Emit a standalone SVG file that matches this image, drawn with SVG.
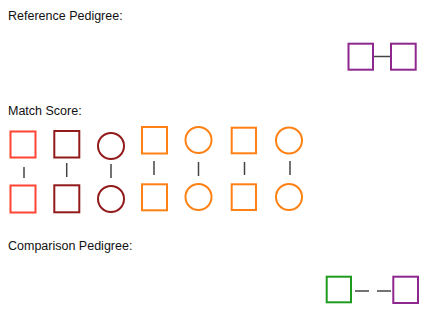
<svg xmlns="http://www.w3.org/2000/svg" width="423" height="317" viewBox="0 0 423 317">
<style>
text{font-family:"Liberation Sans",Arial,sans-serif;font-size:12.5px;fill:#111}
.n{fill:none;stroke-width:2}
.red{stroke:#FF4433}
.dred{stroke:#921A1A}
.org{stroke:#FF8114}
.pur{stroke:#8E278E}
.grn{stroke:#1E9A1E}
.c{stroke:#444;stroke-width:1.5;fill:none}
</style>
<rect width="423" height="317" fill="#fff"/>
<text x="8" y="20">Reference Pedigree:</text>
<text x="8" y="115">Match Score:</text>
<text x="8" y="250">Comparison Pedigree:</text>
<g id="ref-1"><rect class="n pur" x="348.5" y="43.7" width="24.5" height="26"/></g>
<g id="ref-2"><rect class="n pur" x="391" y="43.7" width="24.7" height="26"/></g>
<g id="m1-top"><rect class="n red" x="10.5" y="131.5" width="25" height="26"/></g>
<g id="m1-bot"><rect class="n red" x="10.5" y="185.5" width="25" height="27"/></g>
<g id="m2-top"><rect class="n dred" x="54.3" y="131" width="25" height="26.5"/></g>
<g id="m2-bot"><rect class="n dred" x="54.3" y="185.3" width="25" height="27"/></g>
<g id="m3-top"><circle class="n dred" cx="111" cy="146" r="13"/></g>
<g id="m3-bot"><circle class="n dred" cx="111" cy="199" r="13"/></g>
<g id="m4-top"><rect class="n org" x="142" y="127" width="25" height="26.5"/></g>
<g id="m4-bot"><rect class="n org" x="142" y="184.3" width="25" height="26"/></g>
<g id="m5-top"><circle class="n org" cx="198.5" cy="140" r="13"/></g>
<g id="m5-bot"><circle class="n org" cx="198.5" cy="197" r="13"/></g>
<g id="m6-top"><rect class="n org" x="231.7" y="127.7" width="24.3" height="25.6"/></g>
<g id="m6-bot"><rect class="n org" x="231.7" y="184.3" width="24.3" height="25.7"/></g>
<g id="m7-top"><circle class="n org" cx="289" cy="140.5" r="13"/></g>
<g id="m7-bot"><circle class="n org" cx="289" cy="197" r="13"/></g>
<g id="cmp-1"><rect class="n grn" x="326.7" y="276.7" width="24.3" height="25.6"/></g>
<g id="cmp-2"><rect class="n pur" x="393.3" y="276.7" width="24.7" height="26.3"/></g>
<g id="connectors">
<line class="c" x1="374" y1="56.5" x2="390" y2="56.5"/>
<line class="c" x1="24" y1="167" x2="24" y2="178"/>
<line class="c" x1="66.7" y1="163" x2="66.7" y2="177"/>
<line class="c" x1="111" y1="164" x2="111" y2="178"/>
<line class="c" x1="154" y1="161" x2="154" y2="175"/>
<line class="c" x1="198.5" y1="162" x2="198.5" y2="176"/>
<line class="c" x1="244.5" y1="162" x2="244.5" y2="175"/>
<line class="c" x1="290" y1="161" x2="290" y2="175"/>
<line class="c" x1="355" y1="291" x2="369" y2="291"/>
<line class="c" x1="377" y1="291" x2="391" y2="291"/>
</g>
</svg>
